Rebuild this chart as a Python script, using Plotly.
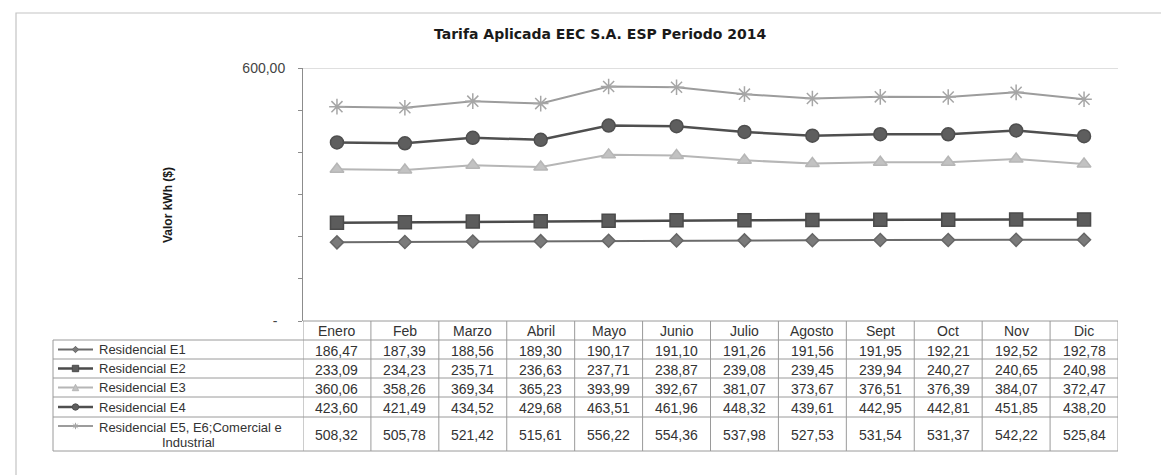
import plotly.graph_objects as go

# ---------------- data ----------------
months = ["Enero", "Feb", "Marzo", "Abril", "Mayo", "Junio", "Julio",
          "Agosto", "Sept", "Oct", "Nov", "Dic"]
series_names = ["Residencial E1", "Residencial E2", "Residencial E3",
                "Residencial E4", "Residencial E5, E6;Comercial e<br>Industrial"]
e1 = [186.47, 187.39, 188.56, 189.30, 190.17, 191.10, 191.26, 191.56, 191.95, 192.21, 192.52, 192.78]
e2 = [233.09, 234.23, 235.71, 236.63, 237.71, 238.87, 239.08, 239.45, 239.94, 240.27, 240.65, 240.98]
e3 = [360.06, 358.26, 369.34, 365.23, 393.99, 392.67, 381.07, 373.67, 376.51, 376.39, 384.07, 372.47]
e4 = [423.60, 421.49, 434.52, 429.68, 463.51, 461.96, 448.32, 439.61, 442.95, 442.81, 451.85, 438.20]
e5 = [508.32, 505.78, 521.42, 515.61, 556.22, 554.36, 537.98, 527.53, 531.54, 531.37, 542.22, 525.84]
y_tickvals = [0, 100, 200, 300, 400, 500, 600]
y_ticktext = ["-\u00a0\u00a0", "", "", "", "", "", "600,00"]
title_text = "Tarifa Aplicada EEC S.A. ESP Periodo 2014"
y_title = "Valor kWh ($)"

# ---------------- geometry (pixels) ----------------
W, H = 1169, 475
PL, PR, PT, PB = 295, 1110, 60, 313   # plot area
FONT = "Liberation Sans, Arial, sans-serif"
TITLE_FONT = "DejaVu Sans, Liberation Sans, sans-serif"


def fx(px):
    return (px - PL) / (PR - PL)


def fy(py):
    return (PB - py) / (PB - PT)


values = [e1, e2, e3, e4, e5]
styles = [
    dict(lc="#6b6b6b", lw=2.0, sym="diamond", ms=10, mc="#7a7a7a", ml="#666666"),
    dict(lc="#4b4b4b", lw=2.5, sym="square", ms=13, mc="#5c5c5c", ml="#4b4b4b"),
    dict(lc="#b6b6b6", lw=2.0, sym="triangle-up", ms=12, mc="#c2c2c2", ml="#b6b6b6"),
    dict(lc="#4f4f4f", lw=2.5, sym="circle", ms=13, mc="#5e5e5e", ml="#4f4f4f"),
    dict(lc="#9c9c9c", lw=2.0, sym="asterisk-open", ms=13, mc="#a6a6a6", ml="#a6a6a6"),
]

fig = go.Figure()
for name, vals, st in zip(series_names, values, styles):
    fig.add_trace(go.Scatter(
        x=months, y=vals, mode="lines+markers", name=name.replace("<br>", " "),
        line=dict(color=st["lc"], width=st["lw"]),
        marker=dict(symbol=st["sym"], size=st["ms"], color=st["mc"],
                    line=dict(color=st["ml"], width=1.5)),
        showlegend=False, hoverinfo="x+y",
    ))

shapes = []
annotations = []
GRID = "#9a9a9a"
TXT = "#333333"

# outer frame (only left/top visible in the picture)
shapes.append(dict(type="rect", xref="paper", yref="paper",
                   x0=fx(8), x1=fx(1180), y0=fy(5), y1=fy(490),
                   line=dict(color="#c4c4c4", width=1.2), layer="below"))
# top gridline at 600
shapes.append(dict(type="line", xref="paper", yref="y", x0=0, x1=1, y0=600, y1=600,
                   line=dict(color="#c0c0c0", width=1.2)))

# table rows (pixel boundaries)
row_edges = [313, 332, 351, 370, 389, 409, 443]
LABEL_LEFT = 45
# header top line (month columns only)
shapes.append(dict(type="line", xref="paper", yref="paper", x0=0, x1=1,
                   y0=fy(row_edges[0]), y1=fy(row_edges[0]),
                   line=dict(color=GRID, width=1)))
for ry in row_edges[1:]:
    shapes.append(dict(type="line", xref="paper", yref="paper", x0=fx(LABEL_LEFT), x1=1,
                       y0=fy(ry), y1=fy(ry), line=dict(color=GRID, width=1)))
# vertical lines
shapes.append(dict(type="line", xref="paper", yref="paper", x0=fx(LABEL_LEFT), x1=fx(LABEL_LEFT),
                   y0=fy(row_edges[1]), y1=fy(row_edges[-1]), line=dict(color=GRID, width=1)))
for i in range(len(months) + 1):
    shapes.append(dict(type="line", xref="x", yref="paper", x0=i - 0.5, x1=i - 0.5,
                       y0=fy(row_edges[0]), y1=fy(row_edges[-1]),
                       line=dict(color=GRID, width=1)))

# header texts
hy = fy((row_edges[0] + row_edges[1]) / 2)
for m in months:
    annotations.append(dict(x=m, y=hy, xref="x", yref="paper", text=m, showarrow=False,
                            font=dict(family=FONT, size=14, color=TXT),
                            xanchor="center", yanchor="middle"))


def fmt(v):
    return f"{v:.2f}".replace(".", ",")


KEY_X0, KEY_X1 = 50, 85
LABEL_SIZE = 13
for r, (name, vals, st) in enumerate(zip(series_names, values, styles)):
    top, bot = row_edges[r + 1], row_edges[r + 2]
    cy = (top + bot) / 2
    for m, v in zip(months, vals):
        annotations.append(dict(x=m, y=fy(cy + 1), xref="x", yref="paper", text=fmt(v),
                                showarrow=False, font=dict(family=FONT, size=14, color=TXT),
                                xanchor="center", yanchor="middle"))
    # legend key line
    ky = cy if "<br>" not in name else 418
    shapes.append(dict(type="line", xref="paper", yref="paper", x0=fx(KEY_X0), x1=fx(KEY_X1),
                       y0=fy(ky), y1=fy(ky), line=dict(color=st["lc"], width=st["lw"])))
    mx = (KEY_X0 + KEY_X1) / 2
    s = 3.2
    sym = st["sym"]
    if sym == "diamond":
        path = (f"M {fx(mx - s)} {fy(ky)} L {fx(mx)} {fy(ky - s)} L {fx(mx + s)} {fy(ky)} "
                f"L {fx(mx)} {fy(ky + s)} Z")
        shapes.append(dict(type="path", xref="paper", yref="paper", path=path,
                           fillcolor=st["mc"], line=dict(color=st["ml"], width=1)))
    elif sym == "square":
        shapes.append(dict(type="rect", xref="paper", yref="paper",
                           x0=fx(mx - s), x1=fx(mx + s), y0=fy(ky - s), y1=fy(ky + s),
                           fillcolor=st["mc"], line=dict(color=st["ml"], width=1)))
    elif sym == "triangle-up":
        path = (f"M {fx(mx - s)} {fy(ky + s)} L {fx(mx)} {fy(ky - s)} L {fx(mx + s)} {fy(ky + s)} Z")
        shapes.append(dict(type="path", xref="paper", yref="paper", path=path,
                           fillcolor=st["mc"], line=dict(color=st["ml"], width=1)))
    elif sym == "circle":
        shapes.append(dict(type="circle", xref="paper", yref="paper",
                           x0=fx(mx - s), x1=fx(mx + s), y0=fy(ky - s), y1=fy(ky + s),
                           fillcolor=st["mc"], line=dict(color=st["ml"], width=1)))
    else:
        for dx, dy in [(s, 0), (0, s), (s * 0.7, s * 0.7), (s * 0.7, -s * 0.7)]:
            shapes.append(dict(type="line", xref="paper", yref="paper",
                               x0=fx(mx - dx), x1=fx(mx + dx), y0=fy(ky - dy), y1=fy(ky + dy),
                               line=dict(color=st["ml"], width=1)))
    # label text
    if "<br>" in name:
        line1, line2 = name.split("<br>")
        annotations.append(dict(x=fx(89), y=fy(419), xref="paper", yref="paper", text=line1,
                                showarrow=False, font=dict(family=FONT, size=LABEL_SIZE, color=TXT),
                                xanchor="left", yanchor="middle"))
        annotations.append(dict(x=fx(180), y=fy(434), xref="paper", yref="paper", text=line2,
                                showarrow=False, font=dict(family=FONT, size=LABEL_SIZE, color=TXT),
                                xanchor="center", yanchor="middle"))
    else:
        annotations.append(dict(x=fx(89), y=fy(cy), xref="paper", yref="paper", text=name,
                                showarrow=False, font=dict(family=FONT, size=LABEL_SIZE, color=TXT),
                                xanchor="left", yanchor="middle"))

# title and y title
annotations.append(dict(x=fx(592), y=fy(26), xref="paper", yref="paper", text=f"<b>{title_text}</b>",
                        showarrow=False, font=dict(family=TITLE_FONT, size=14, color="#1a1a1a"),
                        xanchor="center", yanchor="middle"))
annotations.append(dict(x=fx(160), y=fy(197), xref="paper", yref="paper", text=f"<b>{y_title}</b>",
                        showarrow=False, textangle=-90, font=dict(family=FONT, size=12, color="#1a1a1a"),
                        xanchor="center", yanchor="middle"))

fig.update_layout(
    width=W, height=H, autosize=False,
    margin=dict(l=PL, r=W - PR, t=PT, b=H - PB, pad=0),
    paper_bgcolor="white", plot_bgcolor="white",
    showlegend=False,
    xaxis=dict(type="category", categoryorder="array", categoryarray=months,
               range=[-0.5, len(months) - 0.5], showticklabels=False, showgrid=False,
               zeroline=False, showline=False, ticks=""),
    yaxis=dict(range=[0, 600], tickvals=y_tickvals, ticktext=y_ticktext, ticks="outside",
               ticklen=4, tickcolor="#8c8c8c", showline=True, linecolor="#8c8c8c", linewidth=1,
               showgrid=False, zeroline=False, ticklabelstandoff=10,
               tickfont=dict(family=FONT, size=14, color="#444444")),
    shapes=shapes, annotations=annotations,
)

fig.write_html("out.html")
